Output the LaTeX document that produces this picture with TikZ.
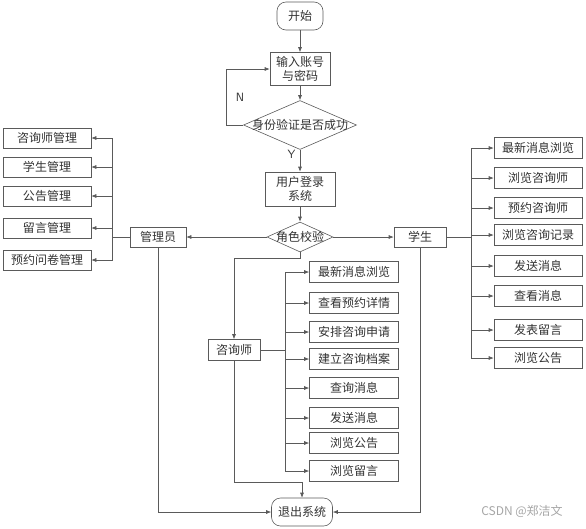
\documentclass[tikz,border=0pt]{standalone}
\usepackage{fontspec}
\usepackage{tikz}
\usetikzlibrary{arrows.meta,shapes.geometric}
\newfontfamily\cjk{Noto Sans CJK SC}
\definecolor{linegray}{RGB}{90,90,90}
\definecolor{textgray}{RGB}{50,50,50}

\tikzset{
  box/.style={draw=linegray, line width=0.6pt, text=textgray, inner sep=1pt,
    font=\cjk\fontsize{12}{14}\selectfont, align=center},
  term/.style={box, rounded corners=9pt},
  decision/.style={box, diamond, inner sep=0pt},
  arr/.style={draw=linegray, line width=0.6pt, -{Latex[length=5pt,width=4pt]}},
  line/.style={draw=linegray, line width=0.6pt},
  tag/.style={text=textgray, font=\sffamily\fontsize{12}{14}\selectfont}
}

\begin{document}
\begin{tikzpicture}[x=1pt,y=-1pt]
    \useasboundingbox (0,0) rectangle (586,528);

    % main flow
    \node[term, minimum width=46pt, minimum height=28pt] (start) at (300,16) {开始};
    \node[box, minimum width=60pt, minimum height=33pt] (login) at (300,69) {输入账号\\与密码};
    \node[decision, minimum width=113pt, minimum height=49pt] (check) at (300,125) {\makebox[0pt]{身份验证是否成功}};
    \node[box, minimum width=70pt, minimum height=34pt] (usr) at (300,189) {用户登录\\系统};
    \node[decision, minimum width=66pt, minimum height=30pt] (role) at (300,237) {\makebox[0pt]{角色校验}};

    \draw[arr] (start) -- (login);
    \draw[arr] (login) -- (check);
    \draw[arr] (check.south) -- (usr.north) node[tag, pos=0.2, left=1pt] {Y};
    \draw[arr] (check.west) -- ++(-17,0) |- (login.west) node[tag, pos=0.25, right=6pt] {N};
    \draw[arr] (usr) -- (role);

    % roles
    \node[box, minimum width=56pt, minimum height=20pt] (admin) at (158,237) {管理员};
    \node[box, minimum width=52pt, minimum height=20pt] (student) at (420,237) {学生};
    \node[box, minimum width=52pt, minimum height=21pt] (counsel) at (234,350) {咨询师};
    \node[term, minimum width=61pt, minimum height=28pt] (exit) at (302,512) {退出系统};

    \draw[arr] (role.west) -- (admin.east);
    \draw[arr] (role.east) -- (student.west);
    \draw[arr] (role.south) -- ++(0,6) -| (counsel.north);

    % admin functions
    \coordinate (atrunk) at (112,237);
    \draw[line] (admin.west) -- (atrunk);
    \foreach \name/\y/\txt in {am1/138/咨询师管理, am2/167/学生管理, am3/196/公告管理,
        am4/228/留言管理, am5/260/预约问卷管理} {
      \node[box, minimum width=88pt, minimum height=20pt] (\name) at (47,\y) {\txt};
      \draw[arr] (atrunk) |- (\name.east);
    }

    % student functions
    \coordinate (strunk) at (471,237);
    \draw[line] (student.east) -- (strunk);
    \foreach \name/\y/\txt in {sm1/148/最新消息浏览, sm2/178/浏览咨询师, sm3/208/预约咨询师,
        sm4/235/浏览咨询记录, sm5/266/发送消息, sm6/296/查看消息, sm7/330/发表留言,
        sm8/358/浏览公告} {
      \node[box, minimum width=88pt, minimum height=21pt] (\name) at (538,\y) {\txt};
      \draw[arr] (strunk) |- (\name.west);
    }

    % counselor functions
    \coordinate (ctrunk) at (285,350);
    \draw[line] (counsel.east) -- (ctrunk);
    \foreach \name/\y/\txt in {cm1/272/最新消息浏览, cm2/303/查看预约详情, cm3/332/安排咨询申请,
        cm4/359/建立咨询档案, cm5/388/查询消息, cm6/418/发送消息, cm7/443/浏览公告,
        cm8/471/浏览留言} {
      \node[box, minimum width=89pt, minimum height=21pt] (\name) at (354,\y) {\txt};
      \draw[arr] (ctrunk) |- (\name.west);
    }

    % exits
    \draw[arr] (admin.south) |- (exit.west);
    \draw[arr] (student.south) |- (exit.east);
    \draw[arr] (counsel.south) -- ++(0,121) -| (exit.north);

    \node[text=gray!70, font=\cjk\fontsize{12}{14}\selectfont] (mark) at (522,511) {CSDN @郑洁文};
\end{tikzpicture}
\end{document}
